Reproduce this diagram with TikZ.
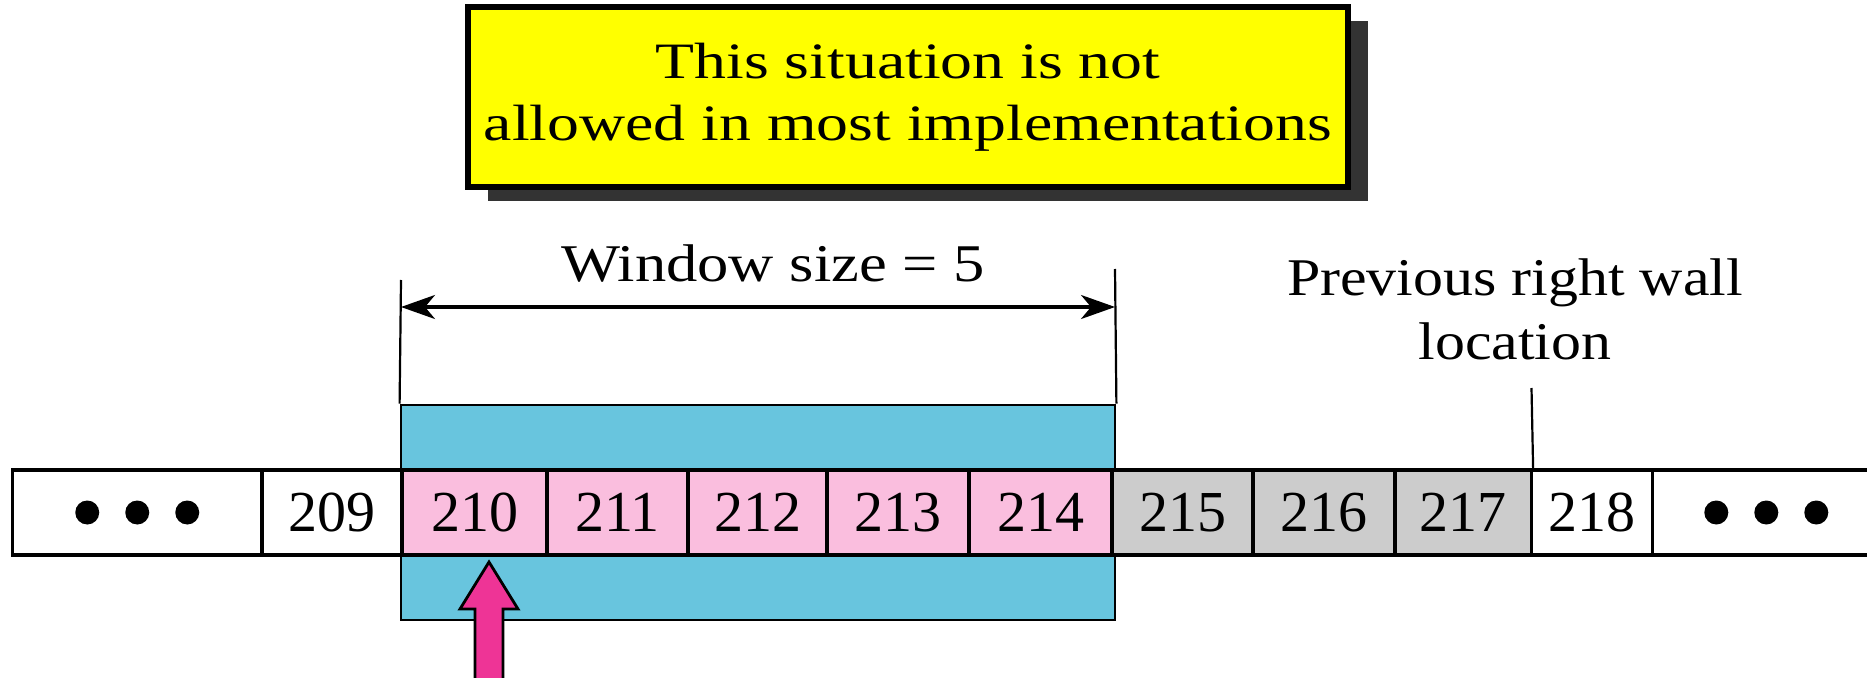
\documentclass[tikz,border=0pt]{standalone}
\usepackage{fontspec}
\usepackage{graphicx}
\setmainfont{Liberation Serif}
\usetikzlibrary{fit,shadows,arrows.meta}

\definecolor{noteyellow}{RGB}{255,255,0}
\definecolor{winblue}{RGB}{104,197,222}
\definecolor{seqpink}{RGB}{250,190,222}
\definecolor{seqgray}{RGB}{204,204,204}
\definecolor{ptrpink}{RGB}{238,52,150}
\definecolor{shadowgray}{RGB}{51,51,51}

\begin{document}
\begin{tikzpicture}[x=0.5pt,y=-0.5pt,
  cell/.style={draw, line width=1.6pt, inner sep=0pt},
  digits/.style={inner sep=0pt, font=\fontsize{29}{34}\selectfont},
  caption/.style={inner sep=0pt, font=\fontsize{26.5}{32}\selectfont},
  thinline/.style={line width=1.1pt},
  dot/.style={fill=black}]
\useasboundingbox (0,0) rectangle (1867,678);

% note box with drop shadow
\node[draw, line width=2.6pt, fill=noteyellow, inner sep=0pt,
      drop shadow={shadow xshift=10pt, shadow yshift=-7pt, fill=shadowgray, opacity=1},
      fit={(468,7) (1348,187)}] (note) {};
\node[inner sep=0pt, font=\fontsize{25.5}{31}\selectfont] (notetext) at (note.center)
  {\scalebox{1.25}[1]{\begin{tabular}{@{}c@{}}This situation is not\\ allowed in most implementations\end{tabular}}};

% sliding window
\node[draw, line width=1.4pt, fill=winblue, inner sep=0pt,
      fit={(401,405) (1115,620)}] (win) {};

% sequence numbers
\foreach \n/\l/\r/\c/\t in {
    dl/12.5/262/white/{},
    c209/262/402/white/209,
    c210/402/547/seqpink/210,
    c211/547/688/seqpink/211,
    c212/688/827/seqpink/212,
    c213/827/969/seqpink/213,
    c214/969/1112/seqpink/214,
    c215/1112/1253/seqgray/215,
    c216/1253/1395/seqgray/216,
    c217/1395/1531.5/seqgray/217,
    c218/1531.5/1652.6/white/218,
    dr/1652.6/1880/white/{}}
  \node[cell, fill=\c, fit={(\l,470) (\r,555)}, label={[digits]center:\t}] (\n) {};

\foreach \cc in {dl,dr}
  \foreach \dx in {-50,0,50}
    \fill[dot] ([xshift=\dx*0.5pt]\cc.center) circle (12);

% window size dimension
\coordinate (wl) at (401,280);
\coordinate (wr) at (1115,269);
\draw[thinline] (wl) -- (win.north west);
\draw[thinline] (wr) -- (win.north east);
\coordinate (al) at (401,307);
\coordinate (ar) at (1115,307);
\draw[line width=1.6pt, {Stealth[length=17pt,width=12pt,inset=5pt]}-{Stealth[length=17pt,width=12pt,inset=5pt]}] (al) -- (ar);
\node[caption, anchor=base] (wsize) at (773,282) {\scalebox{1.18}[1]{Window size = 5}};

% previous right wall marker
\node[caption] (prev) at (1515,315)
  {\scalebox{1.13}[1]{\begin{tabular}{@{}c@{}}Previous right wall\\ location\end{tabular}}};
\coordinate (prw) at (1531.5,388);
\draw[thinline] (prw) -- (c217.north east);

% pointer arrow
\coordinate (tip) at (489,562);
\draw[line width=1.4pt, fill=ptrpink, line join=miter]
  (tip) -- ++(29,47) -- ++(-15,0) -- ++(0,90) -- ++(-28,0) -- ++(0,-90) -- ++(-15,0) -- cycle;
\end{tikzpicture}
\end{document}
